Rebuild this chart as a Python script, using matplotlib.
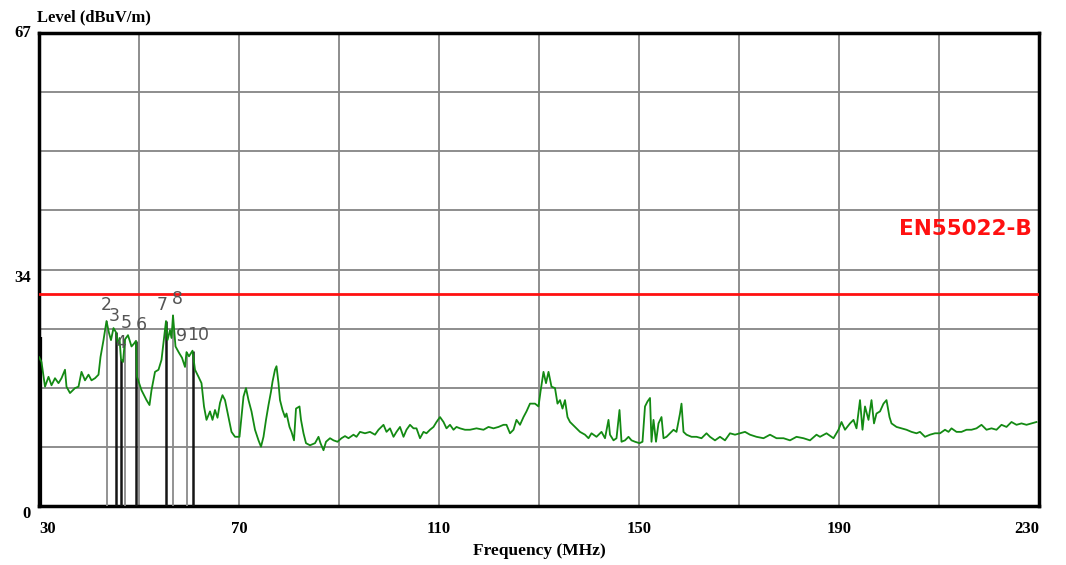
import matplotlib
matplotlib.use("Agg")
import matplotlib.pyplot as plt
from matplotlib.ticker import FixedLocator

# Scan trace: frequency (MHz) and measured level (dBuV/m)
freq_mhz = [
    30.0, 30.5, 31.2, 31.9, 32.5, 33.2, 33.9, 34.5, 35.2, 35.5, 36.2, 37.2, 37.9, 38.5,
    39.2, 39.9, 40.5, 41.2, 41.9, 42.3, 42.9, 43.5, 44.0, 44.4, 44.9, 45.4, 45.8, 46.1,
    46.4, 46.8, 47.2, 47.8, 48.5, 49.0, 49.4, 49.6, 50.5, 51.5, 52.1, 52.5, 53.2, 53.9,
    54.5, 55.4, 55.7, 56.2, 56.5, 56.8, 57.3, 58.0, 58.6, 59.2, 59.5, 60.0, 60.7, 61.2,
    61.9, 62.5, 63.0, 63.5, 64.2, 64.7, 65.2, 65.7, 66.2, 66.7, 67.2, 67.9, 68.5, 69.2,
    70.1, 70.5, 70.9, 71.4, 71.9, 72.5, 73.2, 73.9, 74.4, 74.9, 75.4, 75.9, 76.4, 76.7,
    77.2, 77.5, 77.9, 78.2, 78.7, 79.2, 79.5, 80.1, 80.5, 81.0, 81.4, 82.1, 82.4, 82.9,
    83.4, 84.2, 85.2, 85.9, 86.3, 86.9, 87.4, 88.2, 88.9, 89.7, 90.5, 91.2, 91.9, 92.9,
    93.5, 94.2, 95.2, 96.2, 97.2, 97.9, 98.9, 99.5, 100.2, 100.9, 101.5, 102.2, 102.9,
    103.5, 104.2, 104.9, 105.5, 106.2, 106.9, 107.5, 108.2, 108.9, 109.5, 110.2, 110.9,
    111.5, 112.2, 112.9, 113.5, 114.2, 115.2, 116.2, 117.5, 118.9, 119.9, 120.9, 121.9,
    122.9, 123.5, 124.2, 124.9, 125.5, 126.2, 126.9, 127.5, 128.2, 129.2, 129.9, 130.3,
    130.9, 131.4, 131.9, 132.5, 133.2, 133.7, 134.2, 134.7, 135.2, 135.7, 136.2, 137.2,
    138.2, 139.2, 139.9, 140.5, 141.5, 142.5, 143.2, 143.9, 144.2, 144.9, 145.5, 146.1,
    146.5, 147.2, 147.9, 148.5, 149.2, 150.1, 150.7, 151.2, 151.7, 152.2, 152.5, 152.9,
    153.4, 153.9, 154.5, 154.9, 155.5, 156.2, 156.9, 157.5, 158.2, 158.5, 158.9, 159.5,
    160.5, 161.5, 162.5, 163.5, 164.2, 165.2, 166.2, 167.2, 168.2, 169.2, 170.2, 171.2,
    172.2, 173.5, 174.9, 176.2, 177.5, 178.9, 180.2, 181.5, 182.9, 184.2, 185.5, 186.2,
    187.5, 188.9, 189.9, 190.5, 191.2, 192.2, 192.9, 193.5, 194.2, 194.7, 195.2, 195.9,
    196.5, 197.0, 197.5, 198.2, 198.9, 199.5, 200.1, 200.5, 201.5, 202.5, 203.5, 204.5,
    205.5, 206.2, 207.2, 208.2, 209.2, 210.2, 211.2, 211.9, 212.5, 213.5, 214.5, 215.5,
    216.5, 217.5, 218.5, 219.5, 220.5, 221.5, 222.5, 223.5, 224.5, 225.5, 226.5, 227.5,
    228.5, 229.5,
]
level_dbuv = [
    21.1, 20.4, 16.9, 18.3, 17.1, 18.1, 17.4, 18.1, 19.3, 16.9, 16.0, 16.7, 16.9, 19.0,
    17.8, 18.6, 17.8, 18.1, 18.6, 21.1, 23.5, 26.2, 24.5, 23.5, 25.2, 24.6, 22.8, 23.8,
    20.8, 20.4, 23.6, 24.2, 22.6, 23.0, 23.4, 18.3, 16.4, 15.0, 14.3, 16.4, 19.0, 19.3,
    20.7, 26.2, 23.5, 24.9, 23.8, 27.0, 22.6, 21.7, 21.0, 19.7, 21.8, 21.2, 22.0, 19.3,
    18.3, 17.4, 14.1, 12.2, 13.4, 12.2, 13.6, 12.5, 14.6, 15.7, 15.0, 12.6, 10.5, 9.8,
    9.8, 12.6, 15.5, 16.7, 15.0, 13.4, 10.8, 9.3, 8.4, 9.8, 12.2, 14.3, 16.2, 17.6,
    19.3, 19.8, 17.4, 15.0, 13.6, 12.6, 13.1, 11.2, 10.5, 9.3, 13.8, 14.1, 12.2, 10.3,
    8.9, 8.6, 8.9, 9.8, 8.9, 7.9, 9.1, 9.6, 9.3, 9.1, 9.6, 9.9, 9.6, 10.1,
    9.8, 10.5, 10.3, 10.5, 10.1, 10.8, 11.5, 10.5, 11.0, 9.8, 10.5, 11.2, 9.8,
    10.8, 11.5, 11.0, 11.0, 9.6, 10.5, 10.3, 10.8, 11.2, 11.9, 12.6, 11.9,
    11.0, 11.5, 10.8, 11.2, 11.0, 10.8, 10.8, 11.0, 10.8, 11.2, 11.0, 11.2,
    11.5, 11.5, 10.3, 10.8, 12.2, 11.5, 12.6, 13.4, 14.5, 14.5, 14.1, 16.2,
    19.0, 17.4, 19.0, 16.9, 16.7, 14.5, 15.0, 13.8, 15.0, 12.6, 11.9, 11.2,
    10.5, 10.1, 9.6, 10.3, 9.8, 10.5, 9.6, 12.2, 10.1, 9.3, 9.6, 13.6,
    9.1, 9.3, 9.8, 9.3, 9.1, 8.9, 9.1, 14.1, 14.8, 15.3, 9.1, 12.2,
    9.1, 11.7, 12.6, 9.6, 9.8, 10.3, 10.8, 10.5, 13.1, 14.5, 10.5, 10.1,
    9.8, 9.8, 9.6, 10.3, 9.8, 9.3, 9.8, 9.3, 10.3, 10.1, 10.3, 10.5,
    10.1, 9.8, 9.6, 10.1, 9.6, 9.6, 9.3, 9.8, 9.6, 9.3, 10.1, 9.8,
    10.3, 9.6, 10.8, 11.9, 10.8, 11.7, 12.2, 11.0, 15.0, 10.8, 14.1, 12.2,
    15.0, 11.7, 13.1, 13.4, 14.5, 15.0, 12.6, 11.7, 11.2, 11.0, 10.8, 10.5,
    10.3, 10.5, 9.8, 10.1, 10.3, 10.3, 10.8, 10.5, 11.0, 10.5, 10.5, 10.8,
    10.8, 11.0, 11.5, 10.8, 11.0, 10.8, 11.5, 11.2, 11.9, 11.5, 11.7, 11.5,
    11.7, 11.9,
]

# Peak markers found by the scan
marker_ids = ["1", "2", "3", "4", "5", "6", "7", "8", "9", "10"]
marker_freq = [30.0, 43.5, 45.4, 46.4, 47.2, 49.4, 55.4, 56.8, 59.5, 60.7]
marker_level = [24.0, 26.2, 24.6, 20.8, 23.6, 23.4, 26.2, 27.0, 21.8, 22.0]
marker_colors = ["black", "#8a8a8a", "#151515", "#151515", "#8a8a8a",
                 "#151515", "#151515", "#8a8a8a", "#8a8a8a", "#151515"]
marker_widths = [4.5, 1.3, 1.8, 1.8, 1.3, 1.8, 1.8, 1.3, 1.3, 1.8]
# horizontal nudge (points) for the crowded marker numbers
marker_nudge = [0, 0, -1, 0, 1, 4, -3, 3, -4, 4]

# Limit line
limit_name = "EN55022-B"
limit_level = 30.0

# Axes ranges and labels
x_min, x_max = 30, 230
y_min, y_max = 0, 67
x_tick_values = [30, 70, 110, 150, 190, 230]
x_tick_labels = ["30", "70", "110", "150", "190", "230"]
x_grid_between = [50, 90, 130, 170, 210]
y_tick_values = [0, 33.5, 67]
y_tick_labels = ["0", "34", "67"]

W, H, DPI = 1066, 565, 100
fig = plt.figure(figsize=(W / DPI, H / DPI), dpi=DPI, facecolor="white")
ax = fig.add_axes([39 / W, 1 - 506 / H, 1000 / W, 473 / H])
ax.set_xlim(x_min, x_max)
ax.set_ylim(y_min, y_max)

label_font = dict(family=["Liberation Serif", "DejaVu Serif"], weight="bold")

# Grid: every 20 MHz and every 1/8 of the level range
ax.xaxis.set_major_locator(FixedLocator(x_tick_values))
ax.xaxis.set_minor_locator(FixedLocator(x_grid_between))
ax.yaxis.set_major_locator(FixedLocator(y_tick_values))
ax.yaxis.set_minor_locator(FixedLocator([y_max * k / 8 for k in range(1, 8)]))
ax.grid(which="both", color="#858585", linewidth=1.3)
ax.set_axisbelow(True)
ax.tick_params(which="both", length=0)

ax.set_xticklabels(x_tick_labels, fontsize=12, **label_font)
ax.set_yticklabels(y_tick_labels, fontsize=12, **label_font)
ax.tick_params(axis="x", pad=11)
ax.tick_params(axis="y", pad=6)
xt = ax.get_xticklabels()
xt[0].set_horizontalalignment("left")
xt[-1].set_horizontalalignment("right")
yt = ax.get_yticklabels()
yt[0].set_verticalalignment("top")
yt[1].set_verticalalignment("top")
yt[2].set_verticalalignment("center")

for side in ax.spines.values():
    side.set_color("black")
    side.set_linewidth(2.5)

# Marker stems from the floor up to each peak
for f, lv, c, w in zip(marker_freq, marker_level, marker_colors, marker_widths):
    ax.plot([f, f], [y_min, lv], color=c, linewidth=w, solid_capstyle="butt", zorder=3)

# Limit line and its name
ax.axhline(limit_level, color="#ff1010", linewidth=2.0, zorder=4)
ax.text(0.993, 0.585, limit_name, transform=ax.transAxes, ha="right", va="center",
        color="#ff1010", fontsize=15.5, fontweight="bold", family="DejaVu Sans")

# Measured trace
ax.plot(freq_mhz, level_dbuv, color="#138a13", linewidth=1.3, zorder=5)

# Marker numbers above the peaks
for mid, f, lv, dx in zip(marker_ids[1:], marker_freq[1:], marker_level[1:],
                          marker_nudge[1:]):
    ax.annotate(mid, (f, lv), xytext=(dx, 5), textcoords="offset points",
                ha="center", va="bottom", fontsize=12.5, color="#555555",
                family="DejaVu Sans", zorder=6)

ax.set_xlabel("Frequency (MHz)", fontsize=12.5, labelpad=4, **label_font)
fig.text(37 / W, 1 - 17 / H, "Level (dBuV/m)", ha="left", va="center",
         fontsize=12, **label_font)

fig.savefig("out.png", dpi=DPI, facecolor="white")
